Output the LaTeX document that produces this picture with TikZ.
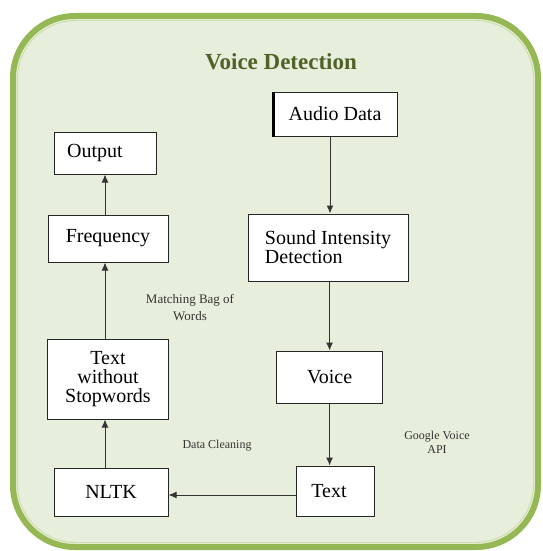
\documentclass[tikz,border=0pt]{standalone}
\usepackage{fontspec}
\setmainfont{Liberation Serif}
\usetikzlibrary{arrows.meta}
\definecolor{bgfill}{RGB}{231,239,220}
\definecolor{framec}{RGB}{150,184,84}
\definecolor{framelt}{RGB}{205,222,168}
\definecolor{titlec}{RGB}{79,98,40}
\begin{document}
\begin{tikzpicture}[x=1pt,y=-1pt,
 box/.style={draw=black!85, line width=1pt, fill=white, inner sep=0pt, font=\fontsize{20}{19}\selectfont, align=center},
 lbl/.style={font=\fontsize{12}{14.5}\selectfont, align=center, text=black!80},
 arr/.style={draw=black!80, line width=1pt, -{Latex[length=8pt,width=7pt]}}]
\useasboundingbox (0,0) rectangle (542,551);
\draw[framec, line width=6pt, fill=bgfill, rounded corners=62pt] (13,16) rectangle (538,547);
\draw[framelt, line width=1pt, rounded corners=58pt] (17.5,20.5) rectangle (533.5,542.5);
\node[font=\fontsize{23}{27}\selectfont\bfseries, text=titlec] (title) at (281,62) {Voice Detection};
% right column
\node[box, minimum width=124, minimum height=44] (audio) at (335,114) {Audio Data};
\draw[black, line width=3pt] ([xshift=1pt]audio.north west) -- ([xshift=1pt]audio.south west);
\node[box, minimum width=160, minimum height=67, align=left] (sound) at (328,247.5) {Sound Intensity\\Detection};
\node[box, minimum width=106, minimum height=52] (voice) at (329.6,377) {Voice};
\node[box, minimum width=78, minimum height=50] (text) at (335,491) {\hspace*{-12pt}Text};
% left column
\node[box, minimum width=114, minimum height=48] (nltk) at (111,492) {NLTK};
\node[box, minimum width=121, minimum height=80] (tws) at (108,379) {Text\\without\\Stopwords};
\node[box, minimum width=120, minimum height=47] (freq) at (108,238.5) {Frequency};
\node[box, minimum width=102, minimum height=42] (output) at (105,153) {\hspace*{-20pt}Output};
% arrows
\draw[arr] ([xshift=-5pt]audio.south) -- ([xshift=-5pt]audio.south |- sound.north);
\draw[arr] (voice.north |- sound.south) -- (voice.north);
\draw[arr] (voice.south) -- (voice.south |- text.north);
\draw[arr] ([yshift=-4pt]text.west) -- ([yshift=-4pt]text.west -| nltk.east);
\draw[arr] (nltk.north -| output.south) -- (tws.south -| output.south);
\draw[arr] (tws.north -| output.south) -- (freq.south -| output.south);
\draw[arr] (freq.north -| output.south) -- (output.south);
% labels
\node[lbl, font=\fontsize{13}{17}\selectfont] (lmatch) at (190,308) {Matching Bag of\\Words};
\node[lbl] (lclean) at (217,446) {Data Cleaning};
\node[lbl] (lgoogle) at (437,442.5) {Google Voice\\API};
\end{tikzpicture}
\end{document}
